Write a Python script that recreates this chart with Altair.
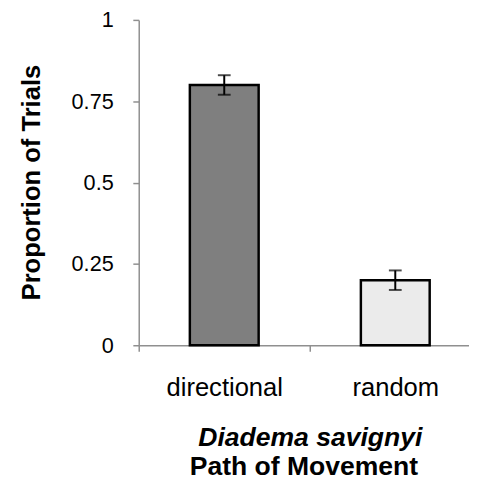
import altair as alt
import pandas as pd

categories = ["directional", "random"]
values = [0.80, 0.20]
errors = [0.03, 0.03]
fills = ["#7f7f7f", "#ebebeb"]
y_ticks = [0, 0.25, 0.5, 0.75, 1]

df = pd.DataFrame({
    "cat": categories,
    "val": values,
    "lo": [v - e for v, e in zip(values, errors)],
    "hi": [v + e for v, e in zip(values, errors)],
    "fill": fills,
})

FONT = "Liberation Sans"
AX = "#8f8f8f"

xscale = alt.Scale(domain=categories, range=[0, 348], paddingInner=0, paddingOuter=0)

x = alt.X(
    "cat:N",
    sort=categories,
    scale=xscale,
    axis=alt.Axis(
        title="Diadema savignyi",
        titleFontStyle="italic",
        titleFontWeight="bold",
        titleFontSize=27,
        titleFont=FONT,
        titleColor="black",
        titleY=102,
        titleBaseline="alphabetic",
        labelFontSize=26,
        labelFont=FONT,
        labelColor="black",
        labelAngle=0,
        labelPadding=24,
        tickBand="extent",
        tickSize=6,
        tickColor=AX,
        tickWidth=1.5,
        domainColor=AX,
        domainWidth=1.5,
    ),
)
x_plain = alt.X("cat:N", sort=categories, scale=xscale)

bars = alt.Chart(df).mark_bar(size=70, stroke="black", strokeWidth=2.5).encode(
    x=x,
    y=alt.Y(
        "val:Q",
        scale=alt.Scale(domain=[0, 1]),
        axis=alt.Axis(
            values=y_ticks,
            format=".2~f",
            title="Proportion of Trials",
            titleFontSize=26,
            titleFont=FONT,
            titleFontWeight="bold",
            titleColor="black",
            titleX=-109,
            titleY=165,
            titleAngle=270,
            titleAlign="center",
            titleBaseline="middle",
            labelFontSize=22,
            labelFont=FONT,
            labelColor="black",
            labelPadding=20,
            tickSize=6,
            tickColor=AX,
            tickWidth=1.5,
            domainColor=AX,
            domainWidth=1.5,
            grid=False,
        ),
    ),
    fill=alt.Fill("fill:N", scale=None),
)

rule = alt.Chart(df).mark_rule(color="black", strokeWidth=2).encode(
    x=x_plain,
    y="lo:Q",
    y2="hi:Q",
)
cap_hi = alt.Chart(df).mark_tick(color="black", size=13, thickness=2, orient="horizontal").encode(
    x=x_plain,
    y="hi:Q",
)
cap_lo = alt.Chart(df).mark_tick(color="black", size=13, thickness=2, orient="horizontal").encode(
    x=x_plain,
    y="lo:Q",
)

chart = alt.layer(bars, rule, cap_hi, cap_lo).properties(
    width=336,
    height=331,
    padding={"left": 133, "top": 8, "right": 0, "bottom": 135},
    autosize=alt.AutoSizeParams(type="none"),
    title=alt.TitleParams(
        "Path of Movement",
        orient="bottom",
        font=FONT,
        fontSize=27,
        fontWeight="bold",
        color="black",
        anchor="middle",
        offset=4,
    ),
).configure_view(stroke=None)

chart.save("out.html", embed_options={"renderer": "svg", "actions": False})
